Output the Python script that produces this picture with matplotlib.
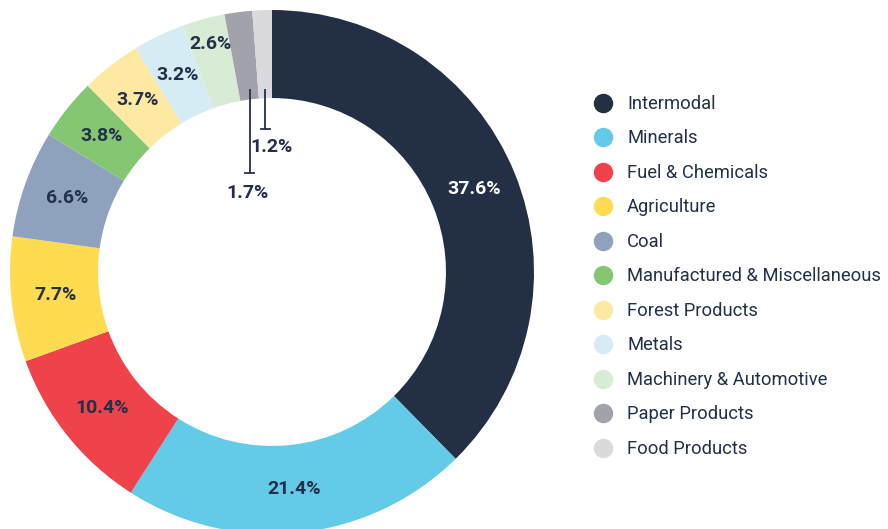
import numpy as np
import matplotlib.pyplot as plt
from matplotlib.lines import Line2D

# =========================
# DATA
# =========================
categories = ["Intermodal", "Minerals", "Fuel & Chemicals", "Agriculture", "Coal",
              "Manufactured & Miscellaneous", "Forest Products", "Metals",
              "Machinery & Automotive", "Paper Products", "Food Products"]
shares = [37.6, 21.4, 10.4, 7.7, 6.6, 3.8, 3.7, 3.2, 2.6, 1.7, 1.2]
colors = ["#222f44", "#63cbe8", "#ef424b", "#fedb51", "#8fa2bd", "#85c673",
          "#fee9a3", "#d5ecf5", "#d8ebd5", "#a2a2ac", "#d9d9de"]

TEXT = "#22304a"
INNER = 0.664
plt.rcParams['font.family'] = ['Roboto', 'DejaVu Sans']

fig = plt.figure(figsize=(8.88, 5.29), dpi=100)
ax = fig.add_axes([10 / 888, -5 / 529, 524 / 888, 524 / 529])

wedges, _ = ax.pie(shares, colors=colors, startangle=90, counterclock=False,
                   radius=1.0, wedgeprops=dict(width=1 - INNER, linewidth=0))

# labels inside the ring (two smallest get leader lines)
label_r = {8: 0.9}
for i, w in enumerate(wedges[:9]):
    ang = np.deg2rad((w.theta1 + w.theta2) / 2)
    r = label_r.get(i, 0.832)
    ax.text(r * np.cos(ang), r * np.sin(ang), f"{shares[i]}%",
            ha="center", va="center", fontsize=14, fontweight="bold",
            color="white" if i == 0 else TEXT)

# leader lines for Paper Products and Food Products
leaders = {9: (0.378, -0.095, 0.30), 10: (0.546, 0.0, 0.477)}
for i, (y_end, lx, ly) in leaders.items():
    w = wedges[i]
    ang = np.deg2rad((w.theta1 + w.theta2) / 2)
    x = INNER * np.cos(ang)
    ax.plot([x, x], [0.70, y_end], color=TEXT, lw=1.3, solid_capstyle="butt")
    ax.plot([x - 0.016, x + 0.016], [y_end, y_end], color=TEXT, lw=1.3)
    ax.text(lx, ly, f"{shares[i]}%", ha="center", va="center",
            fontsize=14, fontweight="bold", color=TEXT)

ax.set_xlim(-1, 1)
ax.set_ylim(-1, 1)
ax.set_aspect("equal")
ax.axis("off")

handles = [Line2D([], [], marker="o", linestyle="none", markersize=14,
                  markerfacecolor=c, markeredgewidth=0) for c in colors]
fig.legend(handles, categories, loc="upper left",
           bbox_to_anchor=(594 / 888, 1 - 95 / 529), frameon=False,
           fontsize=13.2, labelspacing=0.9, handlelength=1.0,
           handletextpad=0.8, borderpad=0, borderaxespad=0,
           labelcolor=TEXT)

fig.savefig("out.png", dpi=100)
